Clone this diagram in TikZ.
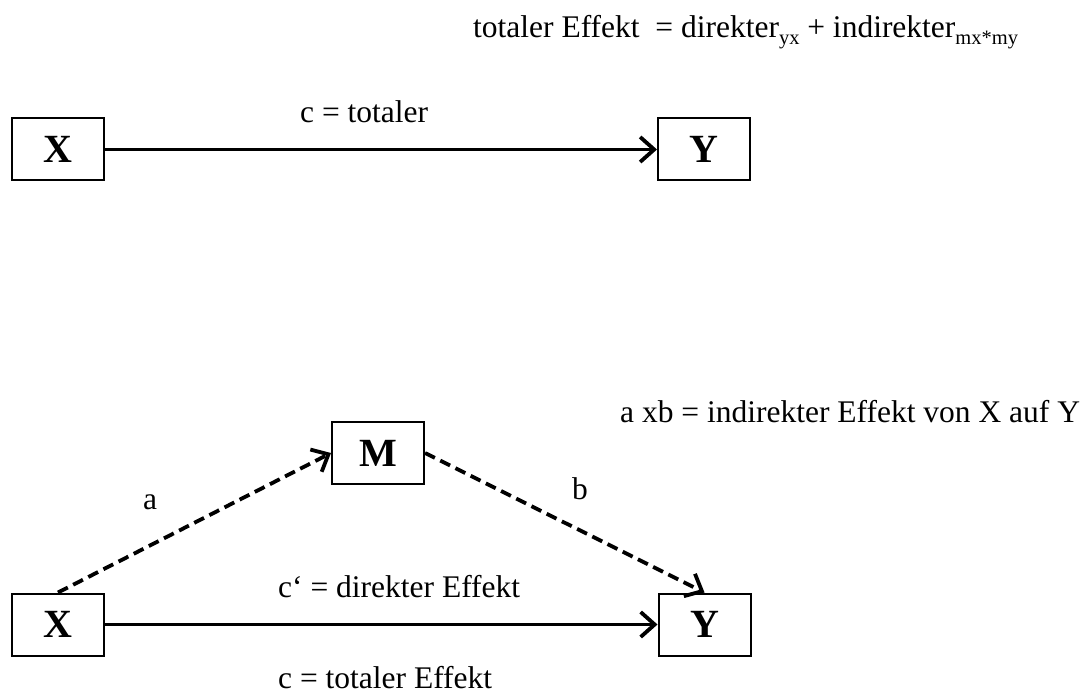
\documentclass[tikz,border=0pt]{standalone}
\usepackage{fontspec}
\setmainfont{Liberation Serif}
\usetikzlibrary{arrows.meta}

\newcommand{\lowidx}[1]{\raisebox{-0.22em}{\fontsize{20.5}{21}\selectfont #1}}

\tikzset{
  var/.style={draw, line width=2pt, minimum width=92pt, minimum height=62pt,
    inner sep=0pt, font=\fontsize{40}{44}\selectfont\bfseries},
  lbl/.style={inner sep=0pt, font=\fontsize{31.5}{36}\selectfont},
  path/.style={line width=3.8pt, -{Straight Barb[length=14pt,width=25pt,line width=3.8pt]}},
  dpath/.style={path, dash pattern=on 11pt off 6pt}
}

\begin{document}
\begin{tikzpicture}[x=1pt,y=-1pt]
  \useasboundingbox (0,0) rectangle (1089,695);

  % total effect model
  \node[var] (X1) at (58,149.5) {X};
  \node[var] (Y1) at (704,149.5) {Y};
  \draw[path] (X1.east) -- (Y1.west);
  \node[lbl, anchor=base west] (c1) at (300,123) {c = totaler};
  \node[lbl, anchor=base west] (eq) at (473,38)
    {totaler Effekt \ = direkter\lowidx{yx} + indirekter\lowidx{mx*my}};

  % mediation model
  \node[var] (X2) at (58,624.5) {X};
  \node[var] (M)  at (378,453) {M};
  \node[var] (Y2) at (704.5,624.5) {Y};
  \draw[path] (X2.east) -- (Y2.west);
  \draw[dpath] (X2.north) -- (M.west);
  \draw[dpath] (M.east) -- (Y2.north);

  \node[lbl, anchor=base] (a) at (150,509) {a};
  \node[lbl, anchor=base] (b) at (580,499) {b};
  \node[lbl, anchor=base west] (cd) at (278,597) {c‘ = direkter Effekt};
  \node[lbl, anchor=base west] (ct) at (278,688) {c = totaler Effekt};
  \node[lbl, anchor=base west] (ab) at (620,422) {a xb = indirekter Effekt von X auf Y};
\end{tikzpicture}
\end{document}
